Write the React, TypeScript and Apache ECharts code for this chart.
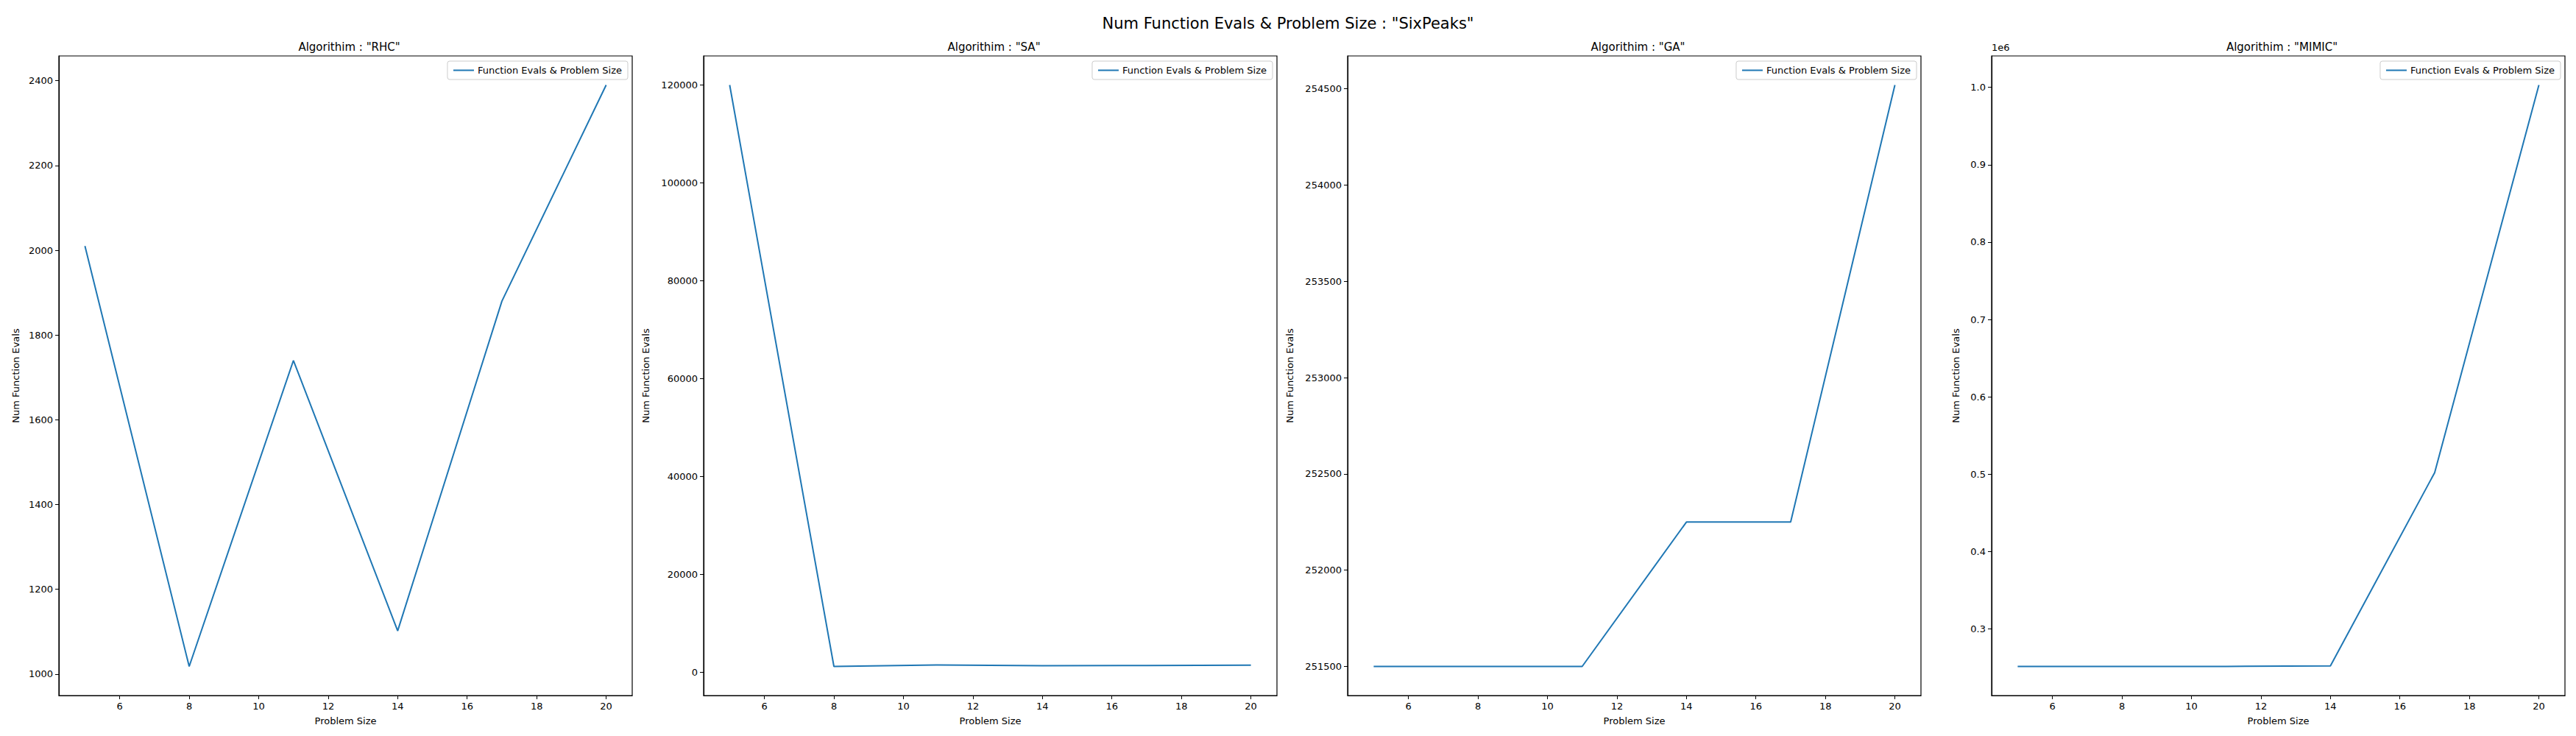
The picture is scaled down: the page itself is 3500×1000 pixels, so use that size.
import React, { useEffect, useRef } from 'react';
import * as echarts from 'echarts';

const problemSizes = [5, 8, 11, 14, 17, 20];
const algorithms = ['RHC', 'SA', 'GA', 'MIMIC'];
const rhcEvals = [2010, 1018, 1740, 1102, 1880, 2390];
const saEvals = [120000, 1200, 1500, 1350, 1400, 1450];
const gaEvals = [251500, 251500, 251500, 252250, 252250, 254520];
const mimicEvals = [251500, 251500, 251500, 252250, 502000, 1003000];
const xTicks = [6, 8, 10, 12, 14, 16, 18, 20];
const rhcTicks = [1000, 1200, 1400, 1600, 1800, 2000, 2200, 2400];
const saTicks = [0, 20000, 40000, 60000, 80000, 100000, 120000];
const gaTicks = [251500, 252000, 252500, 253000, 253500, 254000, 254500];
const mimicTicks = [300000, 400000, 500000, 600000, 700000, 800000, 900000, 1000000];

const FONT = 'DejaVu Sans';
const LEGEND = 'Function Evals & Problem Size';

const App: React.FC = () => {
  const chartRef = useRef<HTMLDivElement>(null);

  useEffect(() => {
    const chart = echarts.init(chartRef.current, null, { renderer: 'svg' });

    const allData = [rhcEvals, saEvals, gaEvals, mimicEvals];
    const allTicks = [rhcTicks, saTicks, gaTicks, mimicTicks];
    const lefts = [80, 956, 1831, 2706];
    const width = 779;
    const nameGaps = [52, 72, 72, 42];

    const pad = (vals: number[]) => {
      const lo = Math.min(...vals);
      const hi = Math.max(...vals);
      const m = (hi - lo) * 0.05;
      return [lo - m, hi + m];
    };

    const axisStyle = {
      axisLine: { show: true, onZero: false, lineStyle: { color: '#000', width: 1.2 } },
      axisTick: { show: true, length: 5, lineStyle: { color: '#000' } },
      splitLine: { show: false },
    };

    const option = {
      animation: false,
      backgroundColor: '#fff',
      title: [
        {
          text: 'Num Function Evals & Problem Size : "SixPeaks"',
          left: 'center',
          top: 16,
          textStyle: { fontFamily: FONT, fontSize: 21, fontWeight: 'normal', color: '#000' },
        },
        ...algorithms.map((a, i) => ({
          text: `Algorithim : "${a}"`,
          left: lefts[i] + width / 2,
          textAlign: 'center',
          top: 51,
          textStyle: { fontFamily: FONT, fontSize: 15, fontWeight: 'normal', color: '#000' },
        })),
      ],
      legend: algorithms.map((_, i) => ({
        data: [LEGEND],
        right: 3500 - (lefts[i] + width) + 6,
        top: 83,
        orient: 'vertical',
        icon: 'rect',
        itemWidth: 28,
        itemHeight: 2,
        padding: [6, 8],
        borderColor: '#ccc',
        borderWidth: 1,
        borderRadius: 3,
        textStyle: { fontFamily: FONT, fontSize: 13, color: '#000' },
      })),
      graphic: [
        {
          type: 'text',
          left: 2706,
          top: 58,
          style: { text: '1e6', font: `13px "${FONT}"`, fill: '#000' },
        },
      ],
      grid: lefts.map(l => ({
        left: l,
        width,
        top: 76,
        bottom: 55,
        show: true,
        borderColor: '#000',
        borderWidth: 1.2,
        backgroundColor: 'transparent',
      })),
      xAxis: lefts.map((_, i) => ({
        type: 'value',
        gridIndex: i,
        min: 4.25,
        max: 20.75,
        name: 'Problem Size',
        nameLocation: 'middle',
        nameGap: 28,
        nameTextStyle: { fontFamily: FONT, fontSize: 13, color: '#000' },
        axisLabel: { customValues: xTicks, fontFamily: FONT, fontSize: 13, color: '#000', margin: 8 },
        ...axisStyle,
        axisTick: { ...axisStyle.axisTick, customValues: xTicks },
      })),
      yAxis: allData.map((d, i) => {
        const [lo, hi] = pad(d);
        return {
          type: 'value',
          gridIndex: i,
          min: lo,
          max: hi,
          name: 'Num Function Evals',
          nameLocation: 'middle',
          nameGap: nameGaps[i],
          nameTextStyle: { fontFamily: FONT, fontSize: 13, color: '#000' },
          axisLabel: {
            customValues: allTicks[i],
            fontFamily: FONT,
            fontSize: 13,
            color: '#000',
            margin: 8,
            formatter: (v: number) => (i === 3 ? (v / 1e6).toFixed(1) : String(v)),
          },
          ...axisStyle,
          axisTick: { ...axisStyle.axisTick, customValues: allTicks[i] },
        };
      }),
      series: allData.map((d, i) => ({
        name: LEGEND,
        type: 'line',
        xAxisIndex: i,
        yAxisIndex: i,
        data: problemSizes.map((x, j) => [x, d[j]]),
        showSymbol: false,
        lineStyle: { color: '#1f77b4', width: 2 },
        itemStyle: { color: '#1f77b4' },
      })),
    };

    chart.setOption(option);

    return () => {
      chart.dispose();
    };
  }, []);

  return (
    <div
      ref={chartRef}
      style={{ position: 'absolute', left: 0, top: 0, width: '3500px', height: '1000px' }}
    />
  );
};

export default App;
